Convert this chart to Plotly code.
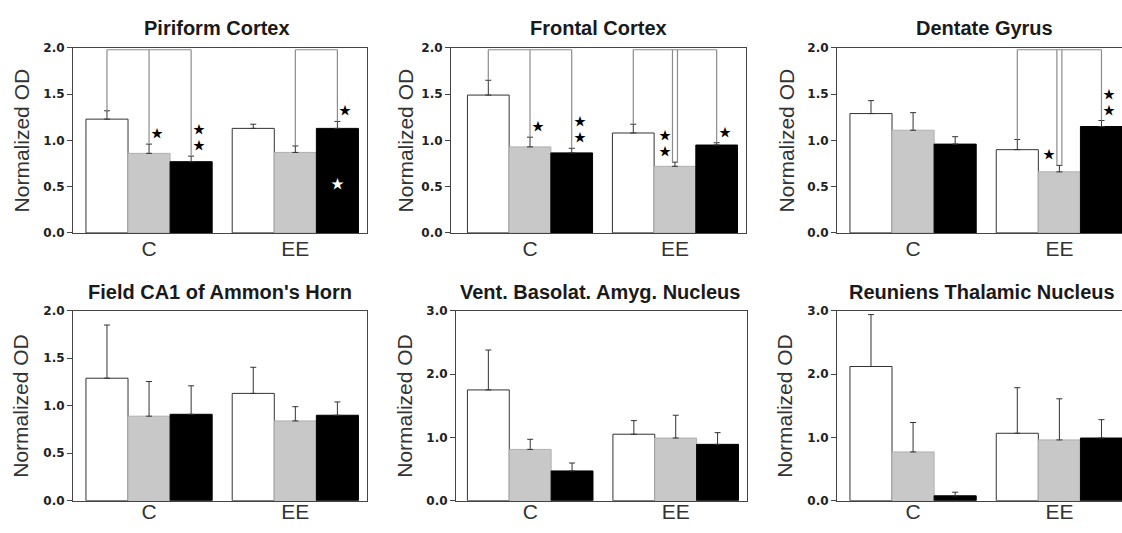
import plotly.graph_objects as go

W, H = 1122, 533

groups = ["C", "EE"]
series = ["white", "gray", "black"]

panel_titles = ["Piriform Cortex", "Frontal Cortex", "Dentate Gyrus",
                "Field CA1 of Ammon's Horn", "Vent. Basolat. Amyg. Nucleus",
                "Reuniens Thalamic Nucleus"]
y_axis_title = "Normalized OD"
y_max = [2.0, 2.0, 2.0, 2.0, 3.0, 3.0]
y_dtick = [0.5, 0.5, 0.5, 0.5, 1.0, 1.0]

# means and error (upper) per series, order [C, EE]
piriform_mean = {"white": [1.23, 1.13], "gray": [0.86, 0.87], "black": [0.77, 1.13]}
piriform_err = {"white": [0.09, 0.045], "gray": [0.10, 0.07], "black": [0.06, 0.075]}

frontal_mean = {"white": [1.49, 1.08], "gray": [0.93, 0.72], "black": [0.865, 0.95]}
frontal_err = {"white": [0.16, 0.095], "gray": [0.105, 0.045], "black": [0.05, 0.025]}

dentate_mean = {"white": [1.29, 0.90], "gray": [1.11, 0.66], "black": [0.96, 1.15]}
dentate_err = {"white": [0.14, 0.11], "gray": [0.19, 0.07], "black": [0.08, 0.065]}

ca1_mean = {"white": [1.29, 1.13], "gray": [0.89, 0.84], "black": [0.91, 0.90]}
ca1_err = {"white": [0.56, 0.275], "gray": [0.365, 0.15], "black": [0.30, 0.14]}

vba_mean = {"white": [1.75, 1.05], "gray": [0.81, 0.99], "black": [0.47, 0.89]}
vba_err = {"white": [0.63, 0.215], "gray": [0.16, 0.36], "black": [0.125, 0.185]}

reuniens_mean = {"white": [2.12, 1.065], "gray": [0.77, 0.96], "black": [0.077, 0.99]}
reuniens_err = {"white": [0.82, 0.72], "gray": [0.465, 0.65], "black": [0.057, 0.29]}

panel_means = [piriform_mean, frontal_mean, dentate_mean, ca1_mean, vba_mean, reuniens_mean]
panel_errs = [piriform_err, frontal_err, dentate_err, ca1_err, vba_err, reuniens_err]

# significance stars: (panel, group, series, n_stars, side)  side: 1 right, -1 left, 0 inside
stars = [(0, 0, 1, 1, 1), (0, 0, 2, 2, 1), (0, 1, 2, 1, 1), (0, 1, 2, 1, 0),
         (1, 0, 1, 1, 1), (1, 0, 2, 2, 1), (1, 1, 1, 2, -1), (1, 1, 2, 1, 1),
         (2, 1, 1, 1, -1), (2, 1, 2, 2, 1)]
# comparison brackets: (panel, group, series list, doubled series)
brackets = [(0, 0, [0, 1, 2], []), (0, 1, [1, 2], []),
            (1, 0, [0, 1, 2], []), (1, 1, [0, 1, 2], [1]),
            (2, 1, [0, 1, 2], [1])]

# ---- layout geometry (pixels) ----
panel_px_x = [(73, 367), (451, 746), (837, 1122), (73, 367), (456, 747), (837, 1122)]
panel_xrange = [[-0.52, 1.49], [-0.545, 1.49], [-0.52, 1.428],
                [-0.52, 1.49], [-0.51, 1.49], [-0.52, 1.428]]
row_px_y = [(42, 232), (312, 507)]
row_label_standoff = [-3, -8]
title_px = [(217, 22), (598, 22), (984, 22), (220, 293), (600, 293), (982, 293)]
ytitle_px_x = [21, 405, 786, 21, 405, 785]

fills = {"white": "#ffffff", "gray": "#c8c8c8", "black": "#000000"}
outlines = {"white": "#333333", "gray": "#b0b0b0", "black": "#000000"}
bargap = 0.137
bw = (1 - bargap) / 3

fig = go.Figure()
shapes = []
annotations = []
font_main = "Liberation Sans, Arial, sans-serif"

for p in range(6):
    ax = "" if p == 0 else str(p + 1)
    xref, yref = "x" + ax, "y" + ax
    means, errs = panel_means[p], panel_errs[p]
    for s in series:
        fig.add_trace(go.Bar(
            x=groups, y=means[s], xaxis=xref, yaxis=yref, name=s, showlegend=False,
            marker=dict(color=fills[s], line=dict(color=outlines[s], width=1)),
            error_y=dict(type="data", array=errs[s], arrayminus=[0, 0], symmetric=False,
                         color="#333333", thickness=1, width=3),
            hoverinfo="skip",
        ))
    r = p // 3
    x0, x1 = panel_px_x[p]
    y0, y1 = row_px_y[r]
    mirror_y = p not in (2, 5)
    fig.layout["xaxis" + ax] = dict(
        domain=[x0 / W, x1 / W], anchor=yref, range=panel_xrange[p],
        showline=True, linecolor="#444444", linewidth=1, mirror=True, ticks="",
        ticklabelstandoff=row_label_standoff[r],
        tickfont=dict(family=font_main, size=21, color="#333333"),
        showgrid=False, zeroline=False, fixedrange=True)
    fig.layout["yaxis" + ax] = dict(
        domain=[1 - y1 / H, 1 - y0 / H], anchor=xref, range=[0, y_max[p]],
        dtick=y_dtick[p], tickformat=".1f", showline=True, linecolor="#444444",
        linewidth=1, mirror=mirror_y, ticks="outside", ticklen=5, tickcolor="#444444",
        tickfont=dict(family="DejaVu Sans", size=12, color="#222222", weight="bold"),
        showgrid=False, zeroline=False, fixedrange=True)

    # titles
    tx, ty = title_px[p]
    annotations.append(dict(text=panel_titles[p], x=tx / W, y=1 - ty / H, xref="paper",
                            yref="paper", showarrow=False, xanchor="center", yanchor="middle",
                            font=dict(family=font_main, size=20, color="#1a1a1a", weight="bold")))
    annotations.append(dict(text=y_axis_title, x=ytitle_px_x[p] / W, y=1 - (y0 + y1) / 2 / H,
                            xref="paper", yref="paper", showarrow=False, textangle=-90,
                            xanchor="center", yanchor="middle",
                            font=dict(family=font_main, size=21, color="#333333")))


def px_per_unit_x(p):
    x0, x1 = panel_px_x[p]
    return (x1 - x0) / (panel_xrange[p][1] - panel_xrange[p][0])


def px_per_unit_y(p):
    y0, y1 = row_px_y[p // 3]
    return (y1 - y0) / y_max[p]


def bar_center(g, s):
    return g + (s - 1) * bw


# stars
star_font = "Noto Sans CJK SC"
for (p, g, s, n, side) in stars:
    ax = "" if p == 0 else str(p + 1)
    sname = series[s]
    v = panel_means[p][sname][g]
    top = v + panel_errs[p][sname][g]
    kx, ky = px_per_unit_x(p), px_per_unit_y(p)
    if side == 0:
        annotations.append(dict(text="★", x=bar_center(g, s), y=v * 0.48, xref="x" + ax,
                                yref="y" + ax, showarrow=False,
                                font=dict(family=star_font, size=13, color="#ffffff")))
        continue
    dx = (8 if side > 0 else -10) / kx
    annotations.append(dict(text="<br>".join(["★"] * n), x=bar_center(g, s) + dx,
                            y=top + 1 / ky, xref="x" + ax, yref="y" + ax, showarrow=False,
                            xanchor="center", yanchor="bottom", align="center",
                            font=dict(family=star_font, size=12, color="#000000")))

# brackets
line_style = dict(color="#8c8c8c", width=1.2)
for (p, g, slist, doubled) in brackets:
    ax = "" if p == 0 else str(p + 1)
    kx = px_per_unit_x(p)
    ytop = y_max[p] * 0.99
    xs = [bar_center(g, s) for s in slist]
    shapes.append(dict(type="line", xref="x" + ax, yref="y" + ax, x0=xs[0], x1=xs[-1],
                       y0=ytop, y1=ytop, line=line_style))
    for s in slist:
        sname = series[s]
        top = panel_means[p][sname][g] + panel_errs[p][sname][g]
        offs = [-2.5 / kx, 2.5 / kx] if s in doubled else [0]
        for o in offs:
            shapes.append(dict(type="line", xref="x" + ax, yref="y" + ax,
                               x0=bar_center(g, s) + o, x1=bar_center(g, s) + o,
                               y0=top, y1=ytop, line=line_style))

fig.update_layout(
    width=W, height=H, margin=dict(l=0, r=0, t=0, b=0),
    paper_bgcolor="white", plot_bgcolor="white",
    barmode="group", bargap=bargap, bargroupgap=0,
    shapes=shapes, annotations=annotations, showlegend=False, hovermode=False,
)

fig.write_html("out.html", config={"displayModeBar": False},
               post_script="document.body.style.margin='0px';")
